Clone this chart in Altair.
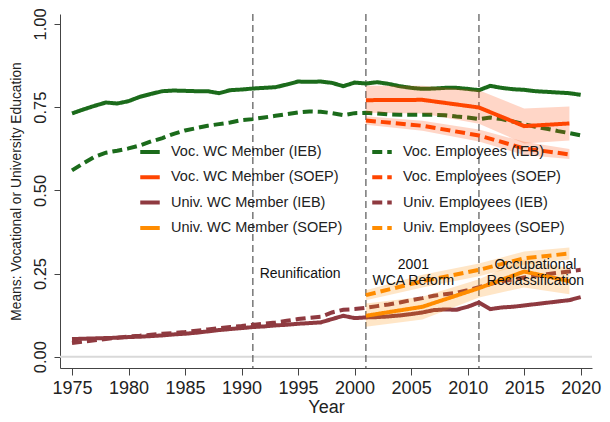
import altair as alt
import pandas as pd

# ---- data ----
years_ieb = list(range(1975, 2021))
voc_wc_ieb = [0.731, 0.743, 0.754, 0.764, 0.761, 0.768, 0.781, 0.790, 0.798, 0.800,
              0.799, 0.798, 0.798, 0.792, 0.801, 0.803, 0.806, 0.808, 0.810, 0.818,
              0.827, 0.826, 0.827, 0.823, 0.813, 0.824, 0.821, 0.825, 0.820, 0.813,
              0.808, 0.805, 0.806, 0.808, 0.808, 0.805, 0.801, 0.814, 0.808, 0.804,
              0.802, 0.798, 0.796, 0.794, 0.792, 0.787]
voc_emp_ieb = [0.560, 0.581, 0.601, 0.613, 0.619, 0.626, 0.635, 0.647, 0.657, 0.670,
               0.680, 0.687, 0.694, 0.699, 0.704, 0.711, 0.714, 0.719, 0.724, 0.729,
               0.734, 0.737, 0.736, 0.732, 0.726, 0.732, 0.733, 0.731, 0.728, 0.727,
               0.727, 0.727, 0.727, 0.726, 0.722, 0.719, 0.714, 0.719, 0.714, 0.707,
               0.699, 0.691, 0.685, 0.678, 0.672, 0.665]
univ_wc_ieb = [0.053, 0.054, 0.055, 0.056, 0.057, 0.059, 0.060, 0.062, 0.064, 0.067,
               0.069, 0.072, 0.076, 0.080, 0.083, 0.086, 0.089, 0.091, 0.094, 0.096,
               0.099, 0.101, 0.103, 0.113, 0.123, 0.116, 0.118, 0.119, 0.121, 0.124,
               0.128, 0.133, 0.140, 0.142, 0.141, 0.150, 0.163, 0.143, 0.148, 0.150,
               0.154, 0.158, 0.162, 0.166, 0.170, 0.179]
univ_emp_ieb = [0.041, 0.045, 0.049, 0.053, 0.057, 0.061, 0.063, 0.066, 0.069, 0.071,
                0.074, 0.078, 0.082, 0.086, 0.089, 0.092, 0.096, 0.099, 0.103, 0.108,
                0.113, 0.117, 0.120, 0.133, 0.141, 0.143, 0.147, 0.152, 0.157, 0.163,
                0.170, 0.176, 0.183, 0.188, 0.192, 0.200, 0.209, 0.218, 0.227, 0.232,
                0.238, 0.243, 0.248, 0.252, 0.256, 0.261]

years_soep = [2001, 2006, 2011, 2015, 2019]
voc_wc_soep = [0.771, 0.772, 0.749, 0.693, 0.701]
voc_wc_soep_lo = [0.733, 0.731, 0.700, 0.641, 0.650]
voc_wc_soep_hi = [0.814, 0.814, 0.801, 0.746, 0.752]
voc_emp_soep = [0.710, 0.694, 0.665, 0.626, 0.608]
voc_emp_soep_lo = [0.697, 0.679, 0.647, 0.606, 0.594]
voc_emp_soep_hi = [0.723, 0.709, 0.683, 0.646, 0.624]
univ_wc_soep = [0.123, 0.150, 0.206, 0.256, 0.227]
univ_wc_soep_lo = [0.090, 0.112, 0.178, 0.208, 0.188]
univ_wc_soep_hi = [0.160, 0.180, 0.233, 0.292, 0.266]
univ_emp_soep = [0.185, 0.227, 0.261, 0.296, 0.310]
univ_emp_soep_lo = [0.170, 0.208, 0.242, 0.276, 0.292]
univ_emp_soep_hi = [0.200, 0.246, 0.280, 0.316, 0.328]

# legend order: left column top-to-bottom, then right column
series_order = ["Voc. WC Member (IEB)", "Voc. WC Member (SOEP)",
                "Univ. WC Member (IEB)", "Univ. WC Member (SOEP)",
                "Voc. Employees (IEB)", "Voc. Employees (SOEP)",
                "Univ. Employees (IEB)", "Univ. Employees (SOEP)"]
series_colors = ["#1b6b1b", "#ff4500", "#8f3a40", "#ff8c00",
                 "#1b6b1b", "#ff4500", "#8f3a40", "#ff8c00"]
series_dash = [[1, 0], [1, 0], [1, 0], [1, 0], [10, 5], [10, 5], [10, 5], [10, 5]]

event_years = [1991, 2001, 2011]
ann_left_text = ["Reunification"]
ann_left_x = [1991.6]
ann_left_y = [0.250]
ann_center_text = ["2001", "WCA Reform", "Occupational", "Reclassification"]
ann_center_x = [2005.2, 2005.2, 2016.0, 2016.0]
ann_center_y = [0.277, 0.227, 0.277, 0.227]

# ---- build tables ----
rows = []
for name, vals in [("Voc. WC Member (IEB)", voc_wc_ieb), ("Voc. Employees (IEB)", voc_emp_ieb),
                   ("Univ. WC Member (IEB)", univ_wc_ieb), ("Univ. Employees (IEB)", univ_emp_ieb)]:
    for y, v in zip(years_ieb, vals):
        rows.append({"year": y, "value": v, "series": name, "src": "IEB"})
soep_sets = [("Voc. WC Member (SOEP)", voc_wc_soep, voc_wc_soep_lo, voc_wc_soep_hi, "#ff4500"),
             ("Voc. Employees (SOEP)", voc_emp_soep, voc_emp_soep_lo, voc_emp_soep_hi, "#ff4500"),
             ("Univ. WC Member (SOEP)", univ_wc_soep, univ_wc_soep_lo, univ_wc_soep_hi, "#ff8c00"),
             ("Univ. Employees (SOEP)", univ_emp_soep, univ_emp_soep_lo, univ_emp_soep_hi, "#ff8c00")]
band_rows = []
for name, vals, lo, hi, col in soep_sets:
    for y, v, l, h in zip(years_soep, vals, lo, hi):
        rows.append({"year": y, "value": v, "series": name, "src": "SOEP"})
        band_rows.append({"year": y, "lo": l, "hi": h, "series": name, "bandcol": col})
df = pd.DataFrame(rows)
bands = pd.DataFrame(band_rows)
events = pd.DataFrame({"year": event_years})
ann_l = pd.DataFrame({"x": ann_left_x, "y": ann_left_y, "t": ann_left_text})
ann_c = pd.DataFrame({"x": ann_center_x, "y": ann_center_y, "t": ann_center_text})

FONT = "Liberation Sans"
xs = alt.Scale(domain=[1973.94, 2021.0], nice=False, zero=False)
ys = alt.Scale(domain=[-0.034, 1.030], nice=False, zero=False)

x_axis = alt.Axis(values=list(range(1975, 2021, 5)), format="d", title="Year",
                  labelFontSize=18, titleFontSize=18, labelFont=FONT, titleFont=FONT,
                  labelColor="#222", titleColor="#222", titleFontWeight="normal",
                  tickSize=7, tickColor="#444", domainColor="#444", grid=False,
                  labelPadding=4, titlePadding=1, labelFlush=False)
y_axis = alt.Axis(values=[0, 0.25, 0.5, 0.75, 1.0], format=".2f",
                  title="Means: Vocational or University Education",
                  labelFontSize=16.5, titleFontSize=13.8, labelFont=FONT, titleFont=FONT,
                  labelColor="#222", titleColor="#222", titleFontWeight="normal",
                  labelAngle=270, labelAlign="center", labelBaseline="bottom",
                  tickSize=6, tickColor="#444", domainColor="#444", grid=False,
                  labelPadding=6, titlePadding=9, labelFlush=False)

def X(field):
    return alt.X(field, scale=xs, axis=x_axis)

def Y(field):
    return alt.Y(field, scale=ys, axis=y_axis)

color_enc = alt.Color("series:N", scale=alt.Scale(domain=series_order, range=series_colors),
                      legend=alt.Legend(orient="none", legendX=78, legendY=126, columns=2,
                                        title=None, symbolType="stroke", symbolStrokeWidth=4,
                                        symbolSize=380, labelFontSize=14.5, labelFont=FONT,
                                        labelColor="#222", labelOffset=9, rowPadding=5.3,
                                        columnPadding=21, labelLimit=300))
dash_enc = alt.StrokeDash("series:N", scale=alt.Scale(domain=series_order, range=series_dash),
                          legend=None)

zero = alt.Chart(pd.DataFrame({"v": [0.0]})).mark_rule(color="#d9d9d9", strokeWidth=2).encode(
    y=Y("v:Q"))

vlines = alt.Chart(events).mark_rule(color="#555", strokeDash=[7, 4], strokeWidth=1.2).encode(
    x=X("year:Q"))

ieb = alt.Chart(df[df.src == "IEB"]).mark_line(strokeWidth=4).encode(
    x=X("year:Q"), y=Y("value:Q"), color=color_enc, strokeDash=dash_enc, detail="series:N")

band = alt.Chart(bands).mark_area(opacity=0.22).encode(
    x=X("year:Q"), y=Y("lo:Q"), y2="hi:Q",
    fill=alt.Fill("bandcol:N", scale=None), detail="series:N")

soep = alt.Chart(df[df.src == "SOEP"]).mark_line(strokeWidth=4).encode(
    x=X("year:Q"), y=Y("value:Q"), color=color_enc, strokeDash=dash_enc, detail="series:N")

text_l = alt.Chart(ann_l).mark_text(fontSize=14, font=FONT, color="#111", baseline="middle",
                                    align="left").encode(x=X("x:Q"), y=Y("y:Q"), text="t:N")
text_c = alt.Chart(ann_c).mark_text(fontSize=14, font=FONT, color="#111", baseline="middle",
                                    align="center").encode(x=X("x:Q"), y=Y("y:Q"), text="t:N")

chart = alt.layer(zero, vlines, ieb, band, soep, text_l, text_c).properties(
    width=532, height=354,
    autosize=alt.AutoSizeParams(type="none"),
    padding={"left": 52, "top": 6, "right": 10, "bottom": 54},
    background="white",
).configure_view(stroke=None)

chart.save("out.html", embed_options={"renderer": "svg", "actions": False})
